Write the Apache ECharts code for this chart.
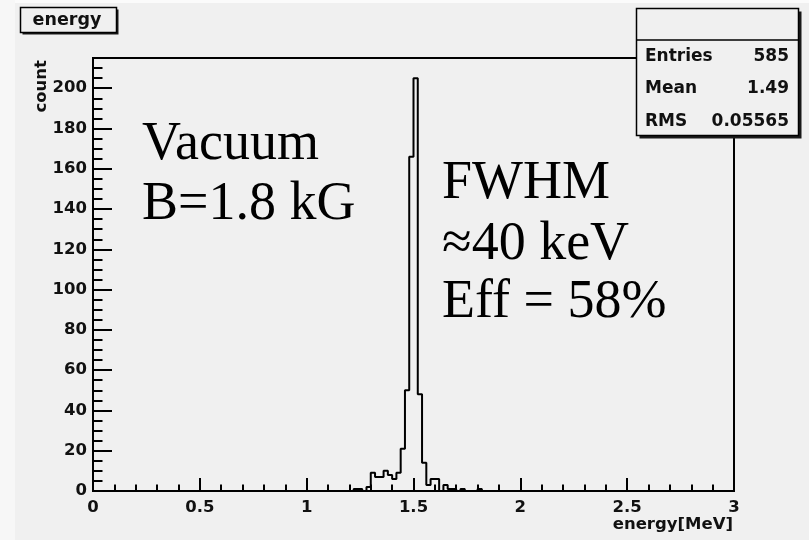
<!DOCTYPE html>
<html>
<head>
<meta charset="utf-8">
<script src="https://cdn.jsdelivr.net/npm/echarts@6/dist/echarts.min.js"></script>
<style>
  html, body { margin: 0; padding: 0; background: #f8f8f8; }
  #chart { width: 809px; height: 540px; }
</style>
</head>
<body>
<div id="chart"></div>
<script>
// Energy spectrum histogram, 150 bins of 0.02 MeV from 0 to 3 MeV
const binWidth = 0.02;
const binCount = 150;
const rangeMin = 0;
const rangeMax = 3;

// Lower bin edges (MeV) of the filled bins and their counts
const binEdges  = [1.22, 1.24, 1.28, 1.30, 1.32, 1.34, 1.36, 1.38, 1.40, 1.42, 1.44, 1.46, 1.48, 1.50, 1.52, 1.54, 1.56, 1.58, 1.60, 1.64, 1.66, 1.68, 1.72, 1.80];
const binCounts = [1,    1,    2,    9,    7,    7,    10,   8,    6,    9,    21,   50,   166,  205,  48,   14,   3,    6,    6,    3,    1,    1,    1,    1];

// Axis ticks and labels
const xTickValues = [0, 0.5, 1, 1.5, 2, 2.5, 3];
const xTickLabels = ['0', '0.5', '1', '1.5', '2', '2.5', '3'];
const yTickValues = [0, 20, 40, 60, 80, 100, 120, 140, 160, 180, 200];
const yTickLabels = ['0', '20', '40', '60', '80', '100', '120', '140', '160', '180', '200'];
const yMax = 215;

// Histogram name, axis titles and statistics box
const histTitle = 'energy';
const xTitle = 'energy[MeV]';
const yTitle = 'count';
const statNames  = ['Entries', 'Mean', 'RMS'];
const statValues = ['585', '1.49', '0.05565'];

// Annotations
const notesLeft  = ['Vacuum', 'B=1.8 kG'];
const notesRight = ['FWHM', '\u224840 keV', 'Eff = 58%'];

// Fill the full bin array (empty bins are zero)
const counts = new Array(binCount).fill(0);
binEdges.forEach((e, i) => { counts[Math.round((e - rangeMin) / binWidth)] = binCounts[i]; });
// Step outline: one point per lower edge, plus the closing upper edge
const outline = counts.map((c, i) => [rangeMin + i * binWidth, c]);
outline.push([rangeMax, counts[binCount - 1]]);

const BG = '#f0f0f0';
const INK = '#111';
const rootFont = 'bold 16.5px "DejaVu Sans"';
const statFont = 'bold 17px "DejaVu Sans"';
const titleFont = 'bold 17.5px "DejaVu Sans"';
const serifFont = '54px "Liberation Serif", "Times New Roman", serif';

const labelFrom = (values, labels) => v => {
  const k = values.findIndex(t => Math.abs(t - v) < 1e-9);
  return k >= 0 ? labels[k] : '';
};

const chart = echarts.init(document.getElementById('chart'), null, { renderer: 'canvas' });

const graphics = [
  // lighter margin strips around the pad
  { type: 'rect', z: -10, silent: true, shape: { x: 0, y: 0, width: 809, height: 3 }, style: { fill: '#fbfbfb' } },
  { type: 'rect', z: -10, silent: true, shape: { x: 0, y: 0, width: 15, height: 540 }, style: { fill: '#f7f7f7' } },
  // histogram title box
  { type: 'rect', z: 50, shape: { x: 22.5, y: 9.5, width: 96, height: 25 }, style: { fill: '#1a1a1a' } },
  { type: 'rect', z: 51, shape: { x: 20.5, y: 7.5, width: 96, height: 25 }, style: { fill: BG, stroke: '#000', lineWidth: 1.5 } },
  { type: 'text', z: 52, x: 67, y: 20, style: { text: histTitle, font: titleFont, fill: INK, align: 'center', verticalAlign: 'middle' } },
  // statistics box
  { type: 'rect', z: 50, shape: { x: 639.5, y: 11.5, width: 162, height: 127 }, style: { fill: '#1a1a1a' } },
  { type: 'rect', z: 51, shape: { x: 636.5, y: 8.5, width: 162, height: 127 }, style: { fill: BG, stroke: '#000', lineWidth: 1.5 } },
  { type: 'line', z: 52, shape: { x1: 636.5, y1: 40, x2: 798.5, y2: 40 }, style: { stroke: '#000', lineWidth: 1.5 } },
  // axis titles
  { type: 'text', z: 20, x: 733, y: 525, style: { text: xTitle, font: rootFont, fill: INK, align: 'right', verticalAlign: 'middle' } },
  { type: 'text', z: 20, x: 42, y: 60, rotation: Math.PI / 2, style: { text: yTitle, font: rootFont, fill: INK, align: 'right', verticalAlign: 'middle' } }
];

const statRowY = [57, 89, 121.5];
statNames.forEach((name, i) => {
  graphics.push({ type: 'text', z: 52, x: 645, y: statRowY[i], style: { text: name, font: statFont, fill: INK, align: 'left', verticalAlign: 'middle' } });
  graphics.push({ type: 'text', z: 52, x: 789, y: statRowY[i], style: { text: statValues[i], font: statFont, fill: INK, align: 'right', verticalAlign: 'middle' } });
});

const leftY = [145, 205];
notesLeft.forEach((t, i) => {
  graphics.push({ type: 'text', z: 30, x: 142, y: leftY[i], style: { text: t, font: serifFont, fill: '#000', align: 'left', verticalAlign: 'middle' } });
});
const rightY = [184, 245, 303];
notesRight.forEach((t, i) => {
  graphics.push({ type: 'text', z: 30, x: 442, y: rightY[i], style: { text: t, font: serifFont, fill: '#000', align: 'left', verticalAlign: 'middle' } });
});

const axisLabelStyle = { color: INK, fontFamily: 'DejaVu Sans', fontWeight: 'bold', fontSize: 16.5 };
const blackLine = { color: '#000', width: 2 };

chart.setOption({
  animation: false,
  backgroundColor: BG,
  grid: {
    left: 93, top: 58, width: 641, height: 433,
    show: true, borderColor: '#000', borderWidth: 2, backgroundColor: 'transparent',
    containLabel: false, outerBoundsMode: 'none'
  },
  xAxis: {
    type: 'value', min: rangeMin, max: rangeMax, interval: 0.5, position: 'bottom',
    axisLine: { show: true, onZero: false, lineStyle: blackLine },
    axisTick: { show: true, inside: true, length: 13, lineStyle: blackLine },
    minorTick: { show: true, splitNumber: 5, length: 6.5, lineStyle: blackLine },
    splitLine: { show: false },
    minorSplitLine: { show: false },
    axisLabel: Object.assign({ margin: 8, formatter: labelFrom(xTickValues, xTickLabels) }, axisLabelStyle)
  },
  yAxis: [
    {
      type: 'value', min: 0, max: yMax, interval: 20, position: 'left',
      axisLine: { show: true, onZero: false, lineStyle: blackLine },
      axisTick: { show: true, inside: true, length: 19, lineStyle: blackLine },
      splitLine: { show: false },
      axisLabel: Object.assign({ margin: 6, showMaxLabel: true, formatter: labelFrom(yTickValues, yTickLabels) }, axisLabelStyle)
    },
    {
      // secondary divisions every 5 counts
      type: 'value', min: 0, max: yMax, interval: 5, position: 'left', offset: 0,
      axisLine: { show: false },
      axisTick: { show: true, inside: true, length: 9.5, lineStyle: blackLine },
      splitLine: { show: false },
      axisLabel: { show: false }
    }
  ],
  series: [{
    type: 'line',
    yAxisIndex: 0,
    data: outline,
    step: 'end',
    symbol: 'none',
    clip: true,
    lineStyle: { color: '#000', width: 2 },
    z: 5
  }],
  graphic: graphics
});
</script>
</body>
</html>
